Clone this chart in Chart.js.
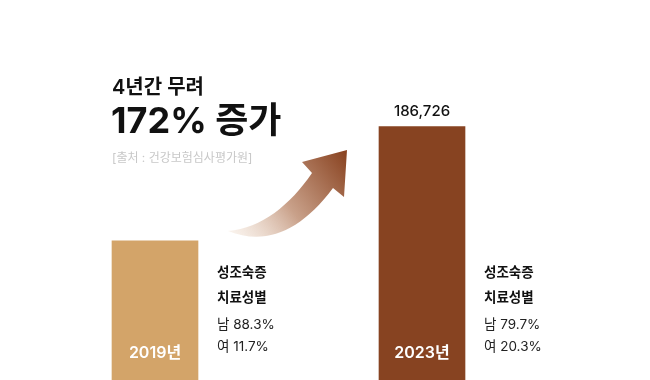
<!DOCTYPE html>
<html lang="ko">
<head>
<meta charset="utf-8">
<script src="https://cdn.jsdelivr.net/npm/chart.js@4/dist/chart.umd.min.js"></script>
<style>
  html, body { margin: 0; padding: 0; background: #fff; }
  #wrap { width: 650px; height: 380px; position: relative; }
</style>
</head>
<body>
<div id="wrap"><canvas id="growthChart"></canvas></div>
<script>
// data
const years = ["2019년", "2023년"];
const patients = [102600, 186726];
const shownValues = ["", "186,726"];
const maleShare = ["88.3%", "79.7%"];
const femaleShare = ["11.7%", "20.3%"];
const barColors = ["#D3A469", "#874321"];

const FONT = "Inter, 'Noto Sans CJK KR', 'Noto Sans', sans-serif";

// headline, arrow and per-bar labels
const labelsPlugin = {
    id: "labels",
    afterDatasetsDraw(chart) {
        let ctx = chart.ctx;
        let meta = chart.getDatasetMeta(0);
        ctx.save();

        // headline
        ctx.fillStyle = "#111";
        ctx.textBaseline = "alphabetic";
        ctx.textAlign = "left";
        ctx.font = "600 20px " + FONT;
        ctx.fillText("4년간 무려", 112, 94);
        ctx.font = "700 36px " + FONT;
        ctx.fillText("172% 증가", 111, 133);
        ctx.fillStyle = "#c8c8c8";
        ctx.font = "400 12px " + FONT;
        ctx.fillText("[출처 : 건강보험심사평가원]", 112, 162);

        // arrow
        let grad = ctx.createLinearGradient(232, 236, 345, 152);
        grad.addColorStop(0, "rgba(245,232,220,0.5)");
        grad.addColorStop(0.45, "#c9a18a");
        grad.addColorStop(1, "#8a4422");
        ctx.fillStyle = grad;
        ctx.beginPath();
        ctx.moveTo(228, 231);
        ctx.bezierCurveTo(262, 228, 290, 205, 312, 173);
        ctx.lineTo(302, 162);
        ctx.lineTo(347, 150);
        ctx.lineTo(344, 197);
        ctx.lineTo(333, 188);
        ctx.bezierCurveTo(300, 232, 265, 246, 228, 231);
        ctx.closePath();
        ctx.fill();

        meta.data.forEach((bar, i) => {
            // value above bar
            if (shownValues[i]) {
                ctx.fillStyle = "#111";
                ctx.textAlign = "center";
                ctx.font = "500 15px " + FONT;
                ctx.fillText(shownValues[i], bar.x, bar.y - 11);
            }
            // year inside bar
            ctx.fillStyle = "#fff";
            ctx.textAlign = "center";
            ctx.font = "600 16px " + FONT;
            ctx.fillText(years[i], bar.x, 358);

            // side notes
            let sx = bar.x + 62;
            ctx.fillStyle = "#111";
            ctx.textAlign = "left";
            ctx.font = "700 13.5px " + FONT;
            ctx.fillText("성조숙증", sx, 277);
            ctx.fillText("치료성별", sx, 302);
            ctx.font = "400 13.5px " + FONT;
            ctx.fillStyle = "#222";
            ctx.fillText("남 " + maleShare[i], sx, 329);
            ctx.fillText("여 " + femaleShare[i], sx, 351);
        });
        ctx.restore();
    }
};

new Chart(document.getElementById("growthChart"), {
    type: "bar",
    data: {
        labels: years,
        datasets: [{
            data: patients,
            backgroundColor: barColors,
            borderWidth: 0,
            barThickness: 86
        }]
    },
    options: {
        responsive: true,
        maintainAspectRatio: false,
        animation: false,
        layout: { padding: { left: 21.5, right: 94.5, top: 0, bottom: 0 } },
        scales: {
            x: { display: false },
            y: { display: false, min: 0, max: 280000 }
        },
        plugins: {
            legend: { display: false },
            tooltip: { enabled: false }
        }
    },
    plugins: [labelsPlugin]
});
</script>
</body>
</html>
